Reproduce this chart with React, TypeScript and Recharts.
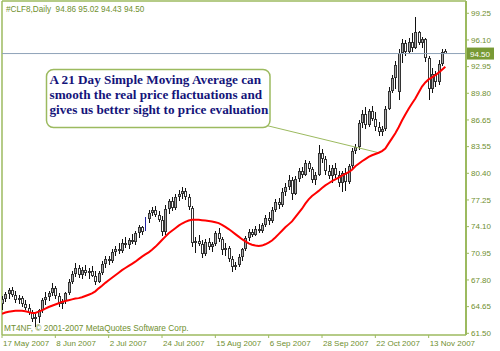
import React from 'react';
import { ComposedChart, Bar, Line, XAxis, YAxis, ReferenceLine, Customized } from 'recharts';

// ---- data ----
const dateLabels = ['17 May 2007', '8 Jun 2007', '2 Jul 2007', '24 Jul 2007', '15 Aug 2007', '6 Sep 2007', '28 Sep 2007', '22 Oct 2007', '13 Nov 2007'];
const dateTickBars = [0, 16, 32, 48, 64, 80, 96, 112, 128];

const priceTicks = [61.5, 64.646, 67.792, 70.938, 74.083, 77.229, 80.375, 83.521, 86.667, 89.813, 92.958, 96.104, 99.25];
const priceTickLabels = ['61.50', '64.65', '67.80', '70.95', '74.10', '77.25', '80.40', '83.55', '86.65', '89.80', '92.95', '96.10', '99.25'];

const opens = [
  65.0, 65.6, 66.1, 66.6, 66.0, 65.4, 65.7, 64.9, 64.5, 63.9, 63.2, 63.4, 64.2, 65.4, 65.8, 66.2, 66.9, 65.9, 64.9, 65.3,
  66.2, 67.6, 68.5, 69.2, 68.4, 69.0, 68.6, 68.9, 68.3, 67.6, 68.6, 69.7, 70.3, 70.0, 71.1, 71.5, 71.2, 72.2, 71.9, 72.5,
  72.3, 73.3, 74.0, 73.6, 75.0, 75.7, 76.1, 75.5, 74.9, 73.4, 76.2, 77.1, 76.3, 77.6, 77.9, 78.3, 77.6, 76.3, 72.1, 72.4,
  72.0, 70.9, 72.3, 71.7, 72.0, 73.3, 72.6, 71.3, 71.6, 70.3, 69.3, 69.6, 70.5, 71.4, 72.7, 73.5, 73.1, 73.8, 73.6, 74.3,
  75.1, 74.7, 76.1, 77.0, 76.6, 78.2, 78.7, 79.6, 77.9, 79.7, 80.6, 80.2, 81.6, 80.9, 79.6, 80.2, 82.8, 82.1, 80.7, 80.1,
  81.0, 80.2, 79.2, 80.4, 79.3, 81.2, 83.0, 83.5, 86.3, 87.4, 86.1, 87.7, 86.8, 85.8, 85.3, 85.6, 88.0, 90.1, 91.6, 90.0,
  94.6, 95.7, 94.7, 95.9, 95.2, 97.0, 95.8, 96.2, 94.0, 90.3, 92.1, 91.1, 93.3, 94.86,
];
const highs = [
  65.9, 66.4, 66.9, 67.0, 66.5, 66.0, 65.9, 65.4, 64.9, 64.3, 63.8, 64.4, 65.7, 66.4, 66.5, 67.4, 67.1, 66.2, 65.6, 66.4,
  67.9, 68.8, 69.8, 69.5, 69.3, 69.6, 69.2, 69.4, 68.9, 68.8, 70.0, 70.6, 70.6, 71.4, 71.8, 72.2, 72.6, 72.9, 72.8, 73.2,
  73.6, 74.3, 74.2, 75.2, 76.0, 76.4, 76.5, 75.9, 75.3, 76.6, 77.4, 77.6, 77.9, 78.4, 78.8, 78.6, 77.9, 76.5, 72.9, 73.1,
  72.5, 72.6, 72.8, 72.3, 73.6, 73.9, 72.9, 72.1, 71.8, 70.6, 69.9, 70.8, 71.6, 73.0, 73.8, 73.8, 74.1, 74.4, 74.5, 75.4,
  75.8, 76.4, 77.3, 77.5, 78.6, 79.2, 80.2, 79.9, 80.0, 81.0, 81.1, 81.9, 81.8, 81.1, 80.5, 83.7, 83.2, 82.4, 81.3, 81.4,
  81.6, 80.6, 80.7, 81.0, 81.5, 83.4, 83.8, 86.7, 87.9, 88.2, 88.0, 88.3, 87.6, 86.4, 86.0, 88.3, 90.5, 92.0, 93.6, 95.0,
  96.2, 96.1, 96.3, 96.9, 98.8, 97.2, 96.5, 96.3, 94.2, 92.8, 92.5, 93.7, 95.0, 95.02,
];
const lows = [
  64.3, 65.2, 65.6, 65.8, 65.1, 64.9, 64.6, 64.2, 63.6, 62.9, 62.3, 62.8, 63.9, 64.9, 65.3, 65.9, 65.6, 64.5, 64.4, 65.0,
  66.0, 67.3, 68.1, 68.0, 67.9, 68.3, 67.9, 68.1, 67.2, 67.4, 68.3, 69.2, 69.5, 69.8, 70.6, 70.9, 70.9, 71.6, 71.5, 72.0,
  71.9, 72.8, 73.1, 73.5, 74.5, 75.3, 75.2, 74.6, 72.9, 73.1, 75.6, 75.9, 76.0, 77.1, 77.4, 77.2, 76.0, 71.7, 71.0, 71.8,
  70.4, 70.6, 71.4, 71.1, 71.8, 72.2, 70.8, 70.6, 69.9, 68.7, 68.9, 69.3, 70.1, 71.2, 72.4, 72.8, 72.9, 73.3, 73.3, 74.0,
  74.3, 74.5, 75.8, 76.2, 76.4, 77.7, 78.4, 77.2, 77.7, 79.4, 79.8, 80.0, 80.5, 79.2, 79.0, 80.0, 81.6, 80.2, 79.6, 79.3,
  79.8, 78.7, 78.2, 78.3, 79.1, 80.9, 82.6, 83.2, 85.8, 85.6, 85.9, 86.5, 85.4, 84.7, 84.8, 85.3, 87.8, 89.9, 90.3, 89.0,
  93.4, 94.2, 94.4, 94.6, 95.0, 95.5, 95.2, 93.5, 89.0, 89.9, 90.6, 90.8, 93.0, 94.43,
];
const closes = [
  65.6, 66.1, 66.6, 66.0, 65.4, 65.7, 64.9, 64.5, 63.9, 63.2, 63.4, 64.2, 65.4, 65.8, 66.2, 66.9, 65.9, 64.9, 65.3, 66.2,
  67.6, 68.5, 69.2, 68.4, 69.0, 68.6, 68.9, 68.3, 67.6, 68.6, 69.7, 70.3, 70.0, 71.1, 71.5, 71.2, 72.2, 71.9, 72.5, 72.3,
  73.3, 74.0, 73.4, 75.0, 75.7, 76.1, 75.5, 74.9, 73.4, 76.2, 77.1, 76.3, 77.6, 77.9, 78.3, 77.6, 76.4, 72.1, 72.4, 72.0,
  70.9, 72.3, 71.7, 72.0, 73.3, 72.6, 71.3, 71.6, 70.3, 69.3, 69.6, 70.5, 71.4, 72.7, 73.5, 73.1, 73.8, 73.6, 74.3, 75.1,
  74.7, 76.1, 77.0, 76.6, 78.2, 78.7, 79.6, 77.9, 79.7, 80.6, 80.2, 81.6, 80.9, 79.6, 80.2, 82.8, 82.1, 80.7, 80.1, 81.0,
  80.2, 79.2, 80.4, 79.3, 81.2, 83.0, 83.5, 86.3, 87.4, 86.1, 87.7, 86.8, 85.8, 85.3, 85.6, 88.0, 90.1, 91.6, 93.2, 94.6,
  95.7, 94.7, 95.9, 95.1, 97.0, 95.8, 96.2, 94.0, 90.3, 92.1, 91.1, 93.3, 94.7, 94.5,
];
const sma21 = [
  63.8, 63.95, 64.05, 64.1, 64.15, 64.15, 64.15, 64.1, 64.0, 63.9, 63.9, 64.05, 64.2, 64.4, 64.6, 64.75, 64.9, 65.05, 65.2, 65.3,
  65.4, 65.5, 65.6, 65.65, 65.75, 65.9, 66.05, 66.2, 66.45, 66.8, 67.1, 67.45, 67.75, 68.05, 68.35, 68.65, 68.95, 69.2, 69.45, 69.7,
  69.95, 70.25, 70.55, 70.8, 71.05, 71.35, 71.7, 72.1, 72.5, 72.9, 73.3, 73.6, 73.9, 74.2, 74.45, 74.65, 74.8, 74.9, 74.9, 74.9,
  74.85, 74.8, 74.75, 74.7, 74.6, 74.5, 74.3, 74.05, 73.8, 73.5, 73.2, 72.9, 72.6, 72.35, 72.1, 71.95, 71.85, 71.8, 71.85, 72.0,
  72.2, 72.45, 72.8, 73.2, 73.6, 74.0, 74.35, 74.7, 75.2, 75.7, 76.2, 76.8, 77.3, 77.7, 78.0, 78.3, 78.65, 78.95, 79.2, 79.45,
  79.65, 79.85, 80.1, 80.3, 80.5, 80.8, 81.2, 81.5, 81.8, 82.05, 82.3, 82.5, 82.65, 82.8, 83.0, 83.3, 83.9, 84.5, 85.1, 85.8,
  86.6, 87.3, 88.0, 88.6, 89.2, 89.9, 90.6, 91.1, 91.45, 91.7, 91.95, 92.25, 92.6, 92.95,
];
const highlightBars = [43];

const lastPrice = 94.5;
const headerText = '#CLF8,Daily  94.86 95.02 94.43 94.50';
const copyrightText = 'MT4NF, \u00a9 2001-2007 MetaQuotes Software Corp.';
const noteLines = [
  'A 21 Day Simple Moving Average can',
  'smooth the real price flactuations and',
  'gives us better sight to price evaluation',
];
// callout pointer (data coordinates): from the note box to the SMA line
const calloutFrom = { x: 79.5, y: 86.0 };
const calloutBar = 113;

const data = opens.map((o, i) => ({
  i,
  open: o,
  high: highs[i],
  low: lows[i],
  close: closes[i],
  range: [lows[i], highs[i]],
  ma: sma21[i],
  hl: highlightBars.includes(i),
}));

// ---- styles ----
const LINE = '#9cba5f';
const TEXT = '#6f8f2f';
const FONT = '"Liberation Sans", Arial, sans-serif';

const Candle = (props: any) => {
  const { x, y, width, height, payload } = props;
  if (!payload || x == null || y == null) return null;
  const { open, close, high, low, hl } = payload;
  const top = Math.min(y, y + height);
  const h = Math.abs(height);
  const k = high - low > 0 ? h / (high - low) : 0;
  const yOf = (v: number) => top + (high - v) * k;
  const c = Math.round(x + width / 2);
  const bTop = Math.round(yOf(Math.max(open, close)));
  const bBot = Math.max(bTop + 1, Math.round(yOf(Math.min(open, close))));
  const bull = close >= open;
  const edge = hl ? '#2020a0' : '#333333';
  return (
    <g>
      <rect x={c} y={Math.round(top)} width={1} height={Math.max(1, Math.round(h))} fill={hl ? '#2020a0' : '#111111'} />
      {!hl && <rect x={c - 1} y={bTop} width={3} height={bBot - bTop} fill={edge} />}
      {!hl && bBot - bTop > 2 && (
        <rect x={c} y={bTop + 1} width={1} height={bBot - bTop - 2} fill={bull ? '#a8a8a8' : '#ffffff'} />
      )}
    </g>
  );
};

const XTick = (props: any) => {
  const { x, payload } = props;
  const idx = dateTickBars.indexOf(payload.value);
  return (
    <g>
      <line x1={x} x2={x} y1={335} y2={338} stroke={LINE} strokeWidth={1} />
      <text x={x + 1} y={346} fill={TEXT} fontSize={8} fontFamily={FONT} textAnchor="start">
        {idx >= 0 ? dateLabels[idx] : ''}
      </text>
    </g>
  );
};

const PriceTag = (props: any) => {
  const vb = props.viewBox || {};
  const x = (vb.x || 0) + (vb.width || 0) + 1;
  const y = vb.y || 0;
  return (
    <g>
      <rect x={x} y={y - 6} width={27} height={12} fill="#789a35" />
      <text x={x + 3} y={y + 3} fill="#ffffff" fontSize={8} fontFamily={FONT}>
        {lastPrice.toFixed(2)}
      </text>
    </g>
  );
};

const Overlay = () => (
  <g>
    <line x1={2} y1={1} x2={2} y2={335} stroke={LINE} strokeWidth={1.5} />
    <line x1={2} y1={1} x2={466} y2={1} stroke={LINE} strokeWidth={1.5} />
    <text x={6} y={11.5} fill={TEXT} fontSize={8.2} fontFamily={FONT} style={{ whiteSpace: 'pre' }}>
      {headerText}
    </text>
    <text x={4} y={331} fill={TEXT} fontSize={8.3} fontFamily={FONT}>
      {copyrightText}
    </text>
    <rect x={46.5} y={69.5} width={223.5} height={58} rx={7} ry={7} fill="#ffffff" stroke={LINE} strokeWidth={1.5} />
    {noteLines.map((t, k) => (
      <text
        key={k}
        x={49.5}
        y={84 + k * 15}
        fill="#14147a"
        fontSize={13.2}
        fontWeight="bold"
        fontFamily='"Liberation Serif", "Times New Roman", serif'
      >
        {t}
      </text>
    ))}
  </g>
);

export default function App() {
  return (
    <div style={{ position: 'absolute', left: 0, top: 0, width: 500, height: 351, background: '#ffffff' }}>
      <ComposedChart
        width={500}
        height={351}
        data={data}
        margin={{ top: 1, right: 0, left: 2, bottom: 0 }}
      >
        <XAxis
          type="number"
          dataKey="i"
          domain={[0, 139.2]}
          allowDataOverflow
          ticks={dateTickBars}
          interval={0}
          tick={<XTick />}
          tickLine={false}
          axisLine={{ stroke: LINE, strokeWidth: 1.5 }}
          height={16}
        />
        <YAxis
          orientation="right"
          type="number"
          domain={[61.3, 100.7]}
          allowDataOverflow
          ticks={priceTicks}
          interval={0}
          tickFormatter={(v: number, idx: number) => priceTickLabels[idx] ?? v.toFixed(2)}
          tick={{ fill: TEXT, fontSize: 8, fontFamily: FONT }}
          tickLine={{ stroke: LINE }}
          tickSize={3}
          tickMargin={2}
          axisLine={{ stroke: LINE, strokeWidth: 2 }}
          width={34}
        />
        <ReferenceLine y={lastPrice} stroke="#8ea2b8" strokeWidth={1} label={(p: any) => <PriceTag {...p} />} />
        <ReferenceLine
          segment={[calloutFrom, { x: calloutBar, y: sma21[calloutBar] }]}
          stroke={LINE}
          strokeWidth={1}
          ifOverflow="visible"
        />
        <Bar dataKey="range" barSize={3} isAnimationActive={false} shape={(p: any) => <Candle {...p} />} />
        <Line
          type="linear"
          dataKey="ma"
          stroke="#ff0000"
          strokeWidth={2}
          dot={false}
          activeDot={false}
          isAnimationActive={false}
        />
        <Customized component={Overlay} />
      </ComposedChart>
    </div>
  );
}
